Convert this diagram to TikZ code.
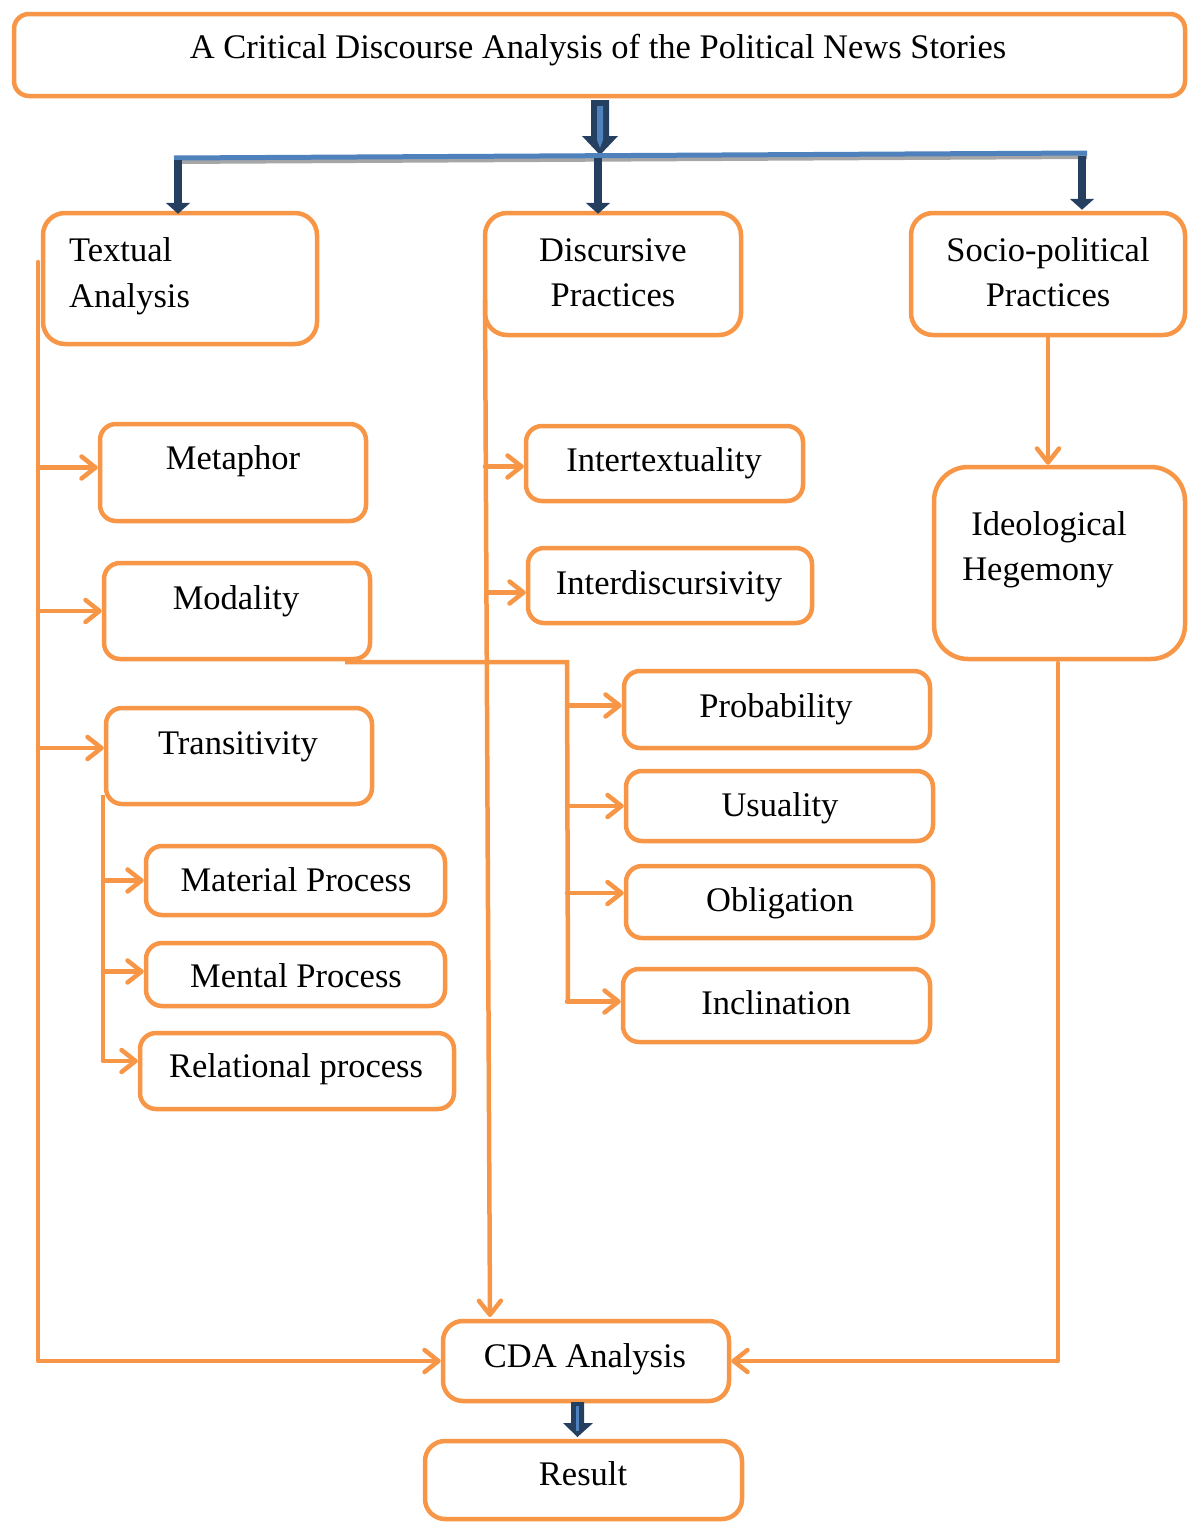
\documentclass[tikz,border=0pt]{standalone}
\usepackage{fontspec}
\setmainfont{Liberation Serif}
\usetikzlibrary{arrows.meta}
\definecolor{org}{HTML}{F79646}
\definecolor{navy}{HTML}{243F60}
\definecolor{blu}{HTML}{4F81BD}
\definecolor{shad}{HTML}{A6A6A6}
\newcommand\mybox[6][16pt]{\node[box, rounded corners=#1, minimum width={#4-#2-4}, minimum height={#5-#3-4}] (#6) at ({(#2+#4)/2},{(#3+#5)/2}) {};}
\begin{document}
\begin{tikzpicture}[x=1pt,y=-1pt,
  box/.style={draw=org, line width=4.5pt, inner sep=0pt, fill=white},
  txt/.style={anchor=base, inner sep=0pt, font=\fontsize{34.5}{41}\selectfont},
  conn/.style={draw=org, line width=4.5pt, line cap=round, line join=round,
     -{Straight Barb[length=14pt,width=22pt,line width=4.5pt,round]}},
  trunk/.style={draw=org, line width=4.5pt},
  navarrow/.style={draw=navy, line width=8pt, -{Triangle[length=11pt,width=24pt]}}]
\useasboundingbox (0,0) rectangle (1190,1523);

% ---- boxes
\mybox[15pt]{12}{12}{1187}{98}{title}
\mybox[22pt]{41}{211}{319}{346}{textual}
\mybox[22pt]{483}{211}{743}{337}{discursive}
\mybox[22pt]{909}{211}{1187}{337}{socio}
\mybox{98}{422}{368}{523}{metaphor}
\mybox{102}{561}{372}{661}{modality}
\mybox{104}{706}{374}{806}{transitivity}
\mybox{144}{844}{447}{917}{material}
\mybox{144}{941}{447}{1008}{mental}
\mybox{138}{1031}{456}{1111}{relational}
\mybox{524}{424}{805}{503}{intertext}
\mybox{526}{546}{814}{625}{interdisc}
\mybox{622}{669}{932}{750}{probability}
\mybox{624}{769}{935}{843}{usuality}
\mybox{624}{864}{935}{940}{obligation}
\mybox{621}{967}{932}{1044}{inclination}
\mybox[34pt]{932}{465}{1187}{661}{ideo}
\mybox[20pt]{441}{1319}{731}{1403}{cda}
\mybox[20pt]{423}{1439}{744}{1521}{result}

% ---- texts
\node[txt] (t-title) at (598,58) {A Critical Discourse Analysis of the Political News Stories};
\node[txt,anchor=base west] (t-tex1) at (69,261) {Textual};
\node[txt,anchor=base west] (t-tex2) at (69,307) {Analysis};
\node[txt] (t-dis1) at (613,261) {Discursive};
\node[txt] (t-dis2) at (613,306) {Practices};
\node[txt] (t-soc1) at (1048,261) {Socio-political};
\node[txt] (t-soc2) at (1048,306) {Practices};
\node[txt] (t-met) at (233,469) {Metaphor};
\node[txt] (t-mod) at (236,609) {Modality};
\node[txt] (t-tra) at (238,754) {Transitivity};
\node[txt] (t-mat) at (296,891) {Material Process};
\node[txt] (t-men) at (296,987) {Mental Process};
\node[txt] (t-rel) at (296,1077) {Relational process};
\node[txt] (t-int) at (664,471) {Intertextuality};
\node[txt] (t-ind) at (669,594) {Interdiscursivity};
\node[txt] (t-pro) at (776,717) {Probability};
\node[txt] (t-usu) at (780,816) {Usuality};
\node[txt] (t-obl) at (780,911) {Obligation};
\node[txt] (t-inc) at (776,1014) {Inclination};
\node[txt] (t-ide1) at (1049,535) {Ideological};
\node[txt] (t-ide2) at (1038,580) {Hegemony};
\node[txt] (t-cda) at (585,1367) {CDA Analysis};
\node[txt] (t-res) at (583,1485) {Result};

% ---- title block arrow and bar
\coordinate (ta) at (title.south);
\fill[navy] (591,100) -- (609,100) -- (609,136) -- (618,136) -- (600,155) -- (582,136) -- (591,136) -- cycle;
\fill[blu] (597,106) -- (603,106) -- (603,140) -- (600,148) -- (597,140) -- cycle;
\coordinate (barL) at (174,158);
\coordinate (barR) at (1087,153);
\draw[shad, line width=4pt] ([yshift=-4pt]barL) -- ([yshift=-4pt]barR);
\draw[blu, line width=5pt] (barL) -- (barR);
\coordinate (b1) at (178,160);
\coordinate (b2) at (598,158);
\coordinate (b3) at (1082,156);
\draw[navarrow] (b1) -- ([yshift=-3pt]b1 |- textual.north);
\draw[navarrow] (b2) -- ([yshift=-3pt]b2 |- discursive.north);
\draw[navarrow] (b3) -- ([yshift=1pt]b3 |- socio.north);

% ---- textual analysis trunk
\coordinate (tA) at (38,262);
\draw[conn] (tA) |- (cda.west);
\draw[conn] ([yshift=5pt]tA |- metaphor.west) -- ([yshift=5pt]metaphor.west);
\draw[conn] (tA |- modality.west) -- (modality.west);
\draw[conn] ([yshift=8pt]tA |- transitivity.west) -- ([yshift=8pt]transitivity.west);

% ---- transitivity sub trunk
\coordinate (tsA) at (103,795);
\coordinate (tsB) at (103,1062);
\draw[trunk] (tsA) -- (tsB);
\draw[conn] (tsA |- material.west) -- (material.west);
\draw[conn] ([yshift=3pt]tsA |- mental.west) -- ([yshift=3pt]mental.west);
\draw[conn] ([yshift=10pt]tsA |- relational.west) -- ([yshift=10pt]relational.west);

% ---- discursive trunk
\coordinate (dA) at (485,300);
\coordinate (dB) at (490,1317);
\draw[conn] (dA) -- (dB);
\draw[conn] ([yshift=-3pt]dA |- intertext.west) -- ([yshift=-3pt]intertext.west);
\draw[conn] ([yshift=-7pt,xshift=1pt]dA |- interdisc.west) -- ([yshift=-7pt]interdisc.west);

% ---- modality line
\coordinate (mA) at (345,662);
\coordinate (mB) at (567,662);
\coordinate (mC) at (568,1003);
\draw[trunk] (mA) -- (mB) -- (mC);
\draw[conn] ([yshift=4pt]mB |- probability.west) -- ([yshift=4pt]probability.west);
\draw[conn] (mB |- usuality.west) -- (usuality.west);
\draw[conn] ([yshift=9pt]mB |- obligation.west) -- ([yshift=9pt]obligation.west);
\draw[conn] ([yshift=4pt]mB |- inclination.west) -- ([yshift=4pt]inclination.west);

% ---- socio-political
\draw[conn] (socio.south) -- (socio.south |- ideo.north);
\coordinate (iA) at (1058,663);
\draw[conn] (iA) |- (cda.east);

% ---- CDA to result block arrow
\coordinate (ra) at (cda.south);
\fill[navy] (571,1402) -- (584,1402) -- (584,1423) -- (593,1423) -- (577.5,1437) -- (563,1423) -- (571,1423) -- cycle;
\fill[blu] (576,1406) -- (579,1406) -- (579,1431) -- (576,1431) -- cycle;
\end{tikzpicture}
\end{document}
